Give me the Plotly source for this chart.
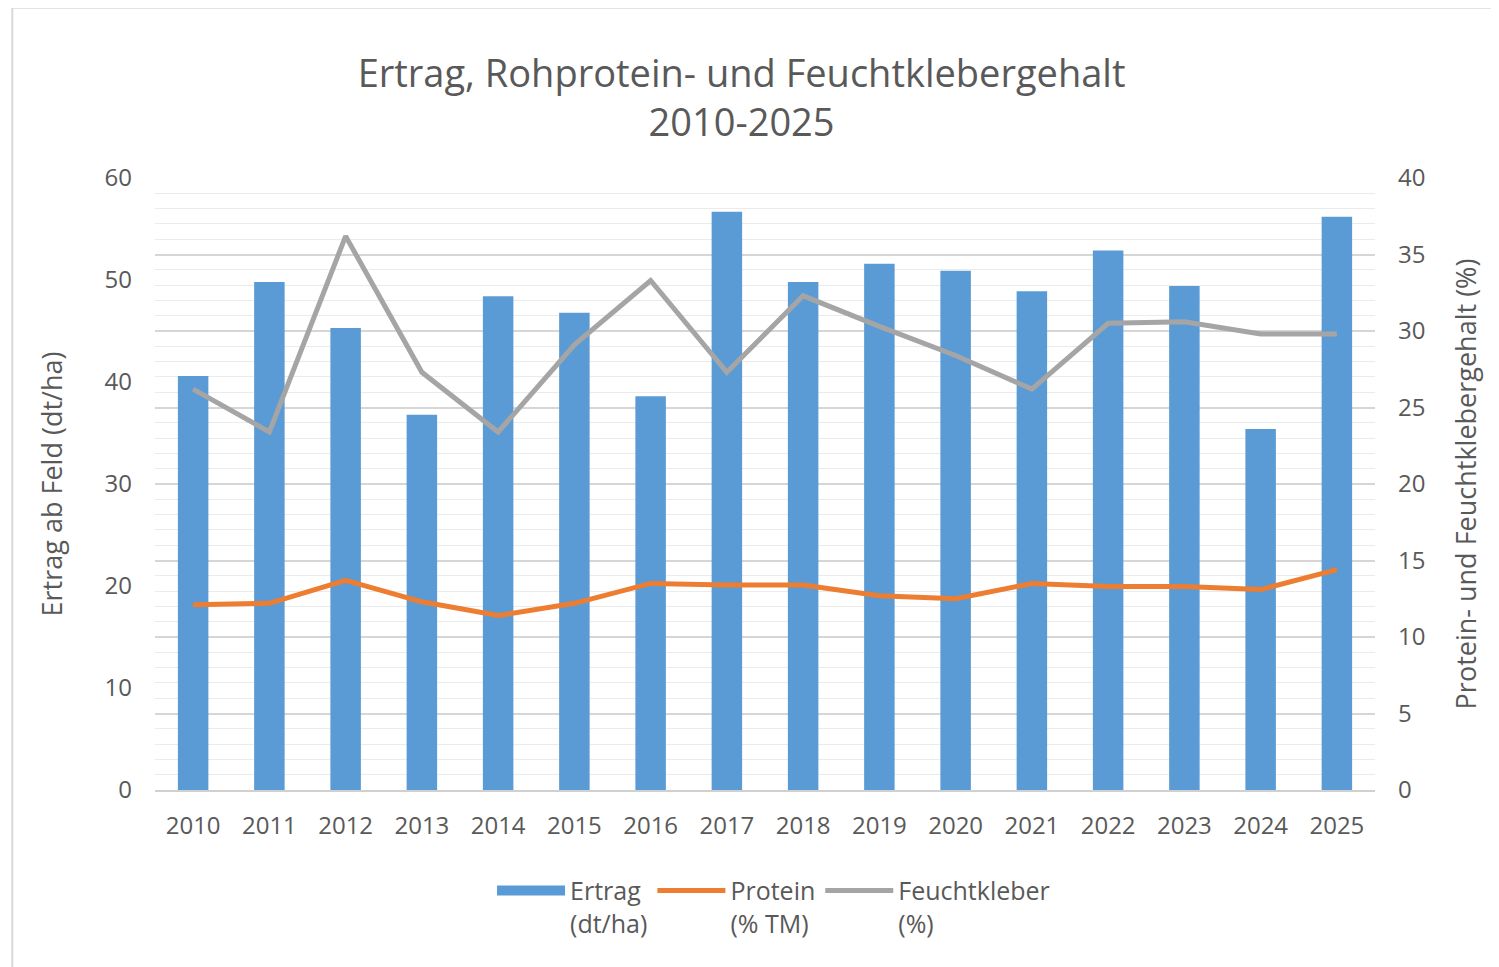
import plotly.graph_objs as go

years = [str(y) for y in range(2010, 2026)]
ertrag = [40.6, 49.8, 45.3, 36.8, 48.4, 46.8, 38.6, 56.7, 49.8, 51.6, 50.9, 48.9, 52.9, 49.4, 35.4, 56.2]
protein = [12.1, 12.2, 13.7, 12.3, 11.4, 12.2, 13.5, 13.4, 13.4, 12.7, 12.5, 13.5, 13.3, 13.3, 13.1, 14.4]
feuchtkleber = [26.2, 23.4, 36.2, 27.3, 23.4, 29.1, 33.3, 27.3, 32.3, 30.3, 28.4, 26.2, 30.5, 30.6, 29.8, 29.8]

font = "Open Sans"
grey = "#595959"
blue = "#5B9BD5"

fig = go.Figure()
fig.add_trace(go.Bar(
    x=years, y=ertrag, name="Ertrag<br>(dt/ha)", showlegend=False,
    marker=dict(color=blue, line=dict(width=0)),
    yaxis="y"))
# legend stand-in so the bar key is a wide block like in Excel
fig.add_trace(go.Scatter(
    x=[None], y=[None], name="Ertrag<br>(dt/ha)", mode="lines",
    line=dict(color=blue, width=14), yaxis="y"))
fig.add_trace(go.Scatter(
    x=years, y=protein, name="Protein<br>(% TM)", mode="lines",
    line=dict(color="#ED7D31", width=5), yaxis="y2"))
fig.add_trace(go.Scatter(
    x=years, y=feuchtkleber, name="Feuchtkleber<br>(%)", mode="lines",
    line=dict(color="#A5A5A5", width=5), yaxis="y2"))

fig.update_layout(
    width=1491, height=959,
    paper_bgcolor="white", plot_bgcolor="white",
    margin=dict(l=147, r=124, t=170, b=177),
    font=dict(family=font, color=grey, size=24),
    title=dict(text="Ertrag, Rohprotein- und Feuchtklebergehalt<br>2010-2025",
               x=0.492, xanchor="center", y=0.918, yanchor="middle",
               font=dict(family=font, size=38, color=grey)),
    bargap=0.6,
    xaxis=dict(type="category", range=[-0.5, 15.5], showgrid=False,
               showline=True, linecolor="#d0d0d0", linewidth=1.5,
               ticks="", ticklabelstandoff=13, tickfont=dict(size=24)),
    yaxis=dict(range=[0, 60], dtick=10, showgrid=False, zeroline=False,
               title=dict(text="Ertrag ab Feld (dt/ha)", standoff=34,
                          font=dict(size=27)),
               ticklabelstandoff=22),
    yaxis2=dict(range=[0, 40], dtick=5, overlaying="y", side="right",
                showgrid=True, gridcolor="#d6d6d6", gridwidth=1.5,
                minor=dict(dtick=1, showgrid=True, gridcolor="#ebebeb", gridwidth=1),
                zeroline=False, ticklabelstandoff=22,
                title=dict(text="Protein- und Feuchtklebergehalt (%)", standoff=32,
                           font=dict(size=27))),
    legend=dict(orientation="h", x=0.507, xanchor="center", y=-0.127, yanchor="top",
                valign="top", font=dict(size=25), itemwidth=68,
                traceorder="normal"),
    shapes=[dict(type="rect", xref="paper", yref="paper",
                 x0=-0.117, x1=1.11, y0=-0.3, y1=1.278,
                 line=dict(color="#d9d9d9", width=2), layer="below")],
)

fig.write_html("out.html")
